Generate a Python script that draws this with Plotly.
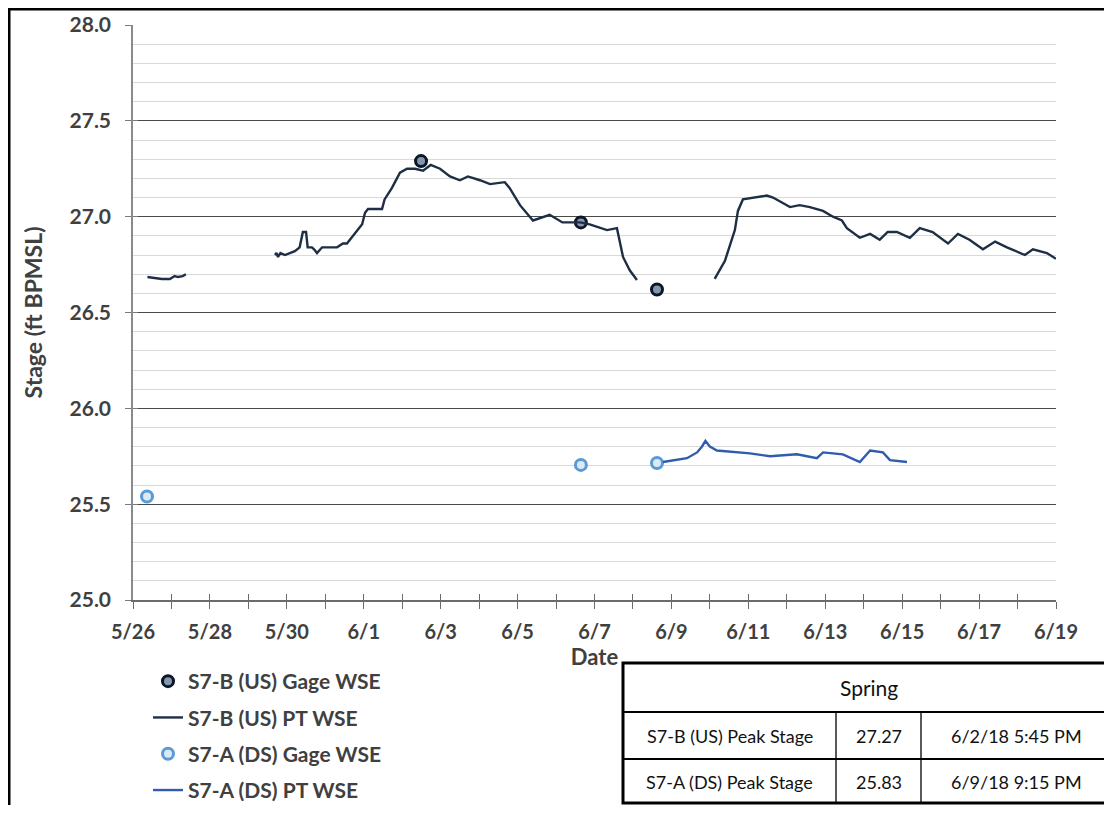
import plotly.graph_objects as go

# ---------------- data ----------------
us_gage_dates = ["2018-06-02 11:45", "2018-06-06 15:30", "2018-06-08 15:00"]
us_gage_vals = [27.29, 26.97, 26.62]

ds_gage_dates = ["2018-05-26 08:45", "2018-06-06 15:30", "2018-06-08 15:00"]
ds_gage_vals = [25.54, 25.705, 25.715]

us_pt_dates = [
    "2018-05-26 09:00", "2018-05-26 13:00", "2018-05-26 18:00", "2018-05-26 23:00",
    "2018-05-27 02:00", "2018-05-27 04:00", "2018-05-27 07:00", "2018-05-27 09:00",
    "2018-05-28 12:00",
    "2018-05-29 16:36", "2018-05-29 17:30", "2018-05-29 18:30", "2018-05-29 20:00",
    "2018-05-29 22:50", "2018-05-30 05:00", "2018-05-30 08:00", "2018-05-30 10:00",
    "2018-05-30 12:00", "2018-05-30 13:00", "2018-05-30 15:40", "2018-05-30 17:00",
    "2018-05-30 18:50", "2018-05-30 22:00", "2018-05-31 07:20", "2018-05-31 11:00",
    "2018-05-31 13:30", "2018-05-31 18:30", "2018-05-31 23:00", "2018-06-01 00:48",
    "2018-06-01 02:40", "2018-06-01 11:24", "2018-06-01 13:00", "2018-06-01 17:36",
    "2018-06-01 22:36", "2018-06-02 03:00", "2018-06-02 08:00", "2018-06-02 13:00",
    "2018-06-02 17:45", "2018-06-02 23:36", "2018-06-03 05:48", "2018-06-03 12:00",
    "2018-06-03 17:00", "2018-06-04 00:30", "2018-06-04 06:48", "2018-06-04 16:00",
    "2018-06-04 19:00", "2018-06-05 01:30", "2018-06-05 06:30", "2018-06-05 09:36",
    "2018-06-05 20:00", "2018-06-06 04:00", "2018-06-06 15:00", "2018-06-06 21:00",
    "2018-06-07 07:48", "2018-06-07 14:00", "2018-06-07 17:48", "2018-06-07 22:00",
    "2018-06-08 02:30",
    "2018-06-09 00:00",
    "2018-06-10 03:00", "2018-06-10 09:24", "2018-06-10 15:36", "2018-06-10 17:30",
    "2018-06-10 20:36", "2018-06-11 03:00", "2018-06-11 11:36", "2018-06-11 15:24",
    "2018-06-12 02:00", "2018-06-12 08:00", "2018-06-12 14:24", "2018-06-12 22:36",
    "2018-06-13 04:48", "2018-06-13 10:24", "2018-06-13 13:30", "2018-06-13 21:36",
    "2018-06-14 04:00", "2018-06-14 10:00", "2018-06-14 15:00", "2018-06-14 20:42",
    "2018-06-15 04:48", "2018-06-15 11:00", "2018-06-15 19:00", "2018-06-16 04:36",
    "2018-06-16 10:48", "2018-06-16 18:00", "2018-06-17 02:24", "2018-06-17 10:00",
    "2018-06-17 17:24", "2018-06-18 04:36", "2018-06-18 09:36", "2018-06-18 18:18",
    "2018-06-19 00:00",
]
us_pt_vals = [
    26.685, 26.68, 26.675, 26.675,
    26.69, 26.685, 26.69, 26.70,
    None,
    26.80, 26.81, 26.79, 26.81,
    26.80, 26.82, 26.84, 26.92,
    26.92, 26.84, 26.84, 26.83,
    26.81, 26.84, 26.84, 26.86,
    26.86, 26.91, 26.96, 27.02,
    27.04, 27.04, 27.09, 27.15,
    27.23, 27.25, 27.25, 27.24,
    27.27, 27.25, 27.21, 27.19,
    27.21, 27.19, 27.17, 27.18,
    27.15, 27.06, 27.01, 26.98,
    27.01, 26.97, 26.97, 26.96,
    26.93, 26.94, 26.79, 26.72,
    26.67,
    None,
    26.675, 26.77, 26.93, 27.03,
    27.09, 27.10, 27.11, 27.10,
    27.05, 27.06, 27.05, 27.03,
    27.00, 26.98, 26.94, 26.89,
    26.91, 26.88, 26.92, 26.92,
    26.89, 26.94, 26.92, 26.86,
    26.91, 26.88, 26.83, 26.87,
    26.84, 26.80, 26.83, 26.81,
    26.78,
]

ds_pt_dates = [
    "2018-06-08 18:42", "2018-06-09 02:00", "2018-06-09 09:42", "2018-06-09 16:00",
    "2018-06-09 19:00", "2018-06-09 21:15", "2018-06-10 00:00", "2018-06-10 04:24",
    "2018-06-10 17:00", "2018-06-11 01:00", "2018-06-11 13:30", "2018-06-12 06:18",
    "2018-06-12 18:48", "2018-06-12 22:36", "2018-06-13 11:00", "2018-06-13 21:36",
    "2018-06-14 04:00", "2018-06-14 12:00", "2018-06-14 16:24", "2018-06-15 03:00",
]
ds_pt_vals = [
    25.72, 25.73, 25.74, 25.77,
    25.80, 25.83, 25.80, 25.78,
    25.77, 25.765, 25.75, 25.76,
    25.74, 25.77, 25.76, 25.72,
    25.78, 25.77, 25.73, 25.72,
]

table_header = "Spring"
peak_labels = ["S7-B (US) Peak Stage", "S7-A (DS) Peak Stage"]
peak_values = ["27.27", "25.83"]
peak_times = ["6/2/18 5:45 PM", "6/9/18 9:15 PM"]

# ---------------- layout helpers ----------------
# the page body has an 8px margin; size the figure so the document fits
OFF = 8
W, H = 1112 - OFF, 813 - 2 * OFF
# plot area in page coordinates
P_L, P_R, P_T, P_B = 133, 1056, 25, 600
ML, MT = P_L - OFF, P_T - OFF
MR, MB = W - (P_R - OFF), H - (P_B - OFF)
PW, PH = P_R - P_L, P_B - P_T


def px(x):  # page x -> paper
    return (x - P_L) / PW


def py(y):  # page y -> paper
    return (P_B - y) / PH


TXT = "#404040"
FONT = "Lato"
TFONT = "Lato"

fig = go.Figure()

fig.add_trace(go.Scatter(
    x=us_gage_dates, y=us_gage_vals, mode="markers", name="S7-B (US) Gage WSE",
    legendgroup="a",
    marker=dict(symbol="circle", size=11, color="#8597ad",
                line=dict(color="#0c1626", width=3)),
))
fig.add_trace(go.Scatter(
    x=us_pt_dates, y=us_pt_vals, mode="lines", name="S7-B (US) PT WSE",
    legendgroup="b", connectgaps=False,
    line=dict(color="#1e2e45", width=2.4),
))
fig.add_trace(go.Scatter(
    x=ds_gage_dates, y=ds_gage_vals, mode="markers", name="S7-A (DS) Gage WSE",
    legendgroup="c",
    marker=dict(symbol="circle", size=11, color="#dce9f6",
                line=dict(color="#5b9bd5", width=3)),
))
fig.add_trace(go.Scatter(
    x=ds_pt_dates, y=ds_pt_vals, mode="lines", name="S7-A (DS) PT WSE",
    legendgroup="d",
    line=dict(color="#2f5cad", width=2.4),
))
# empty trace that activates the overlay axes (for crossing tick marks)
fig.add_trace(go.Scatter(x=[], y=[], xaxis="x2", yaxis="y2", showlegend=False,
                         hoverinfo="skip"))

DAY = 86400000
fig.update_layout(
    width=W, height=H, autosize=False,
    margin=dict(l=ML, r=MR, t=MT, b=MB, pad=0, autoexpand=False),
    paper_bgcolor="white", plot_bgcolor="white",
    font=dict(family=FONT, color=TXT),
    showlegend=True,
    legend=dict(
        x=px(148), y=py(661), xanchor="left", yanchor="top",
        font=dict(family=FONT, size=21, color=TXT, weight="bold"),
        tracegroupgap=6, itemwidth=30, bgcolor="rgba(0,0,0,0)",
    ),
    xaxis=dict(
        type="date", range=["2018-05-26", "2018-06-19"], automargin=False,
        tick0="2018-05-26", dtick=2 * DAY, tickformat="%-m/%-d",
        ticks="outside", ticklen=7, tickwidth=1.3, tickcolor="#6b6b6b",
        ticklabelstandoff=6,
        showline=True, linecolor="#6b6b6b", linewidth=1.5,
        showgrid=False, zeroline=False,
        minor=dict(dtick=DAY, tick0="2018-05-26", ticks="outside", ticklen=7,
                   tickwidth=1.3, tickcolor="#6b6b6b", showgrid=False),
        tickfont=dict(family=FONT, size=20, color=TXT, weight="bold"),
        title=dict(text="Date", standoff=2,
                   font=dict(family=FONT, size=22, color=TXT, weight="bold")),
    ),
    xaxis2=dict(
        overlaying="x", matches="x", anchor="y", type="date", automargin=False,
        tick0="2018-05-26", dtick=DAY, ticks="inside", ticklen=6,
        tickwidth=1.3, tickcolor="#6b6b6b", showticklabels=False,
        showgrid=False, zeroline=False, showline=False,
    ),
    yaxis=dict(
        range=[25, 28], dtick=0.5, tick0=25, tickformat=".1f", automargin=False,
        ticks="outside", ticklen=6, tickwidth=1.3, tickcolor="#7a7a7a",
        ticklabelstandoff=10,
        showline=True, linecolor="#8a8a8a", linewidth=1.5,
        showgrid=True, gridcolor="#4a4a4a", gridwidth=1.2, zeroline=False,
        minor=dict(dtick=0.1, tick0=25, showgrid=True, gridcolor="#d9d9d9",
                   gridwidth=1.2, ticks=""),
        tickfont=dict(family=FONT, size=21, color=TXT, weight="bold"),
        title=dict(text="Stage (ft BPMSL)", standoff=20,
                   font=dict(family=FONT, size=23, color=TXT, weight="bold")),
    ),
    yaxis2=dict(
        overlaying="y", matches="y", anchor="x", side="left", automargin=False,
        dtick=0.5, tick0=25, ticks="inside", ticklen=5, tickwidth=1.3,
        tickcolor="#7a7a7a", showticklabels=False, showgrid=False,
        zeroline=False, showline=False,
    ),
)

shapes = []
# outer frame (left and top edges of the screenshot)
shapes.append(dict(type="line", xref="paper", yref="paper",
                   x0=px(9), x1=px(9), y0=py(8), y1=py(P_B + MB + 20),
                   line=dict(color="black", width=3)))
shapes.append(dict(type="line", xref="paper", yref="paper",
                   x0=px(8), x1=px(1130), y0=py(9), y1=py(9),
                   line=dict(color="black", width=3)))

# summary table
T_L, T_R, T_T, T_B = 623, 1130, 663, 803
R1, R2 = 712, 759
C1, C2 = 836, 921
shapes.append(dict(type="rect", xref="paper", yref="paper",
                   x0=px(T_L), x1=px(T_R), y0=py(T_T), y1=py(T_B),
                   line=dict(color="black", width=3), fillcolor="white",
                   layer="above"))
for yy in (R1, R2):
    shapes.append(dict(type="line", xref="paper", yref="paper",
                       x0=px(T_L), x1=px(T_R), y0=py(yy), y1=py(yy),
                       line=dict(color="black", width=2)))
for xx in (C1, C2):
    shapes.append(dict(type="line", xref="paper", yref="paper",
                       x0=px(xx), x1=px(xx), y0=py(R1), y1=py(T_B),
                       line=dict(color="black", width=1.3)))
fig.update_layout(shapes=shapes)

tfont = dict(family=TFONT, size=18, color="#111111")
ann = [dict(text=table_header, x=px(869), y=py((T_T + R1) / 2), xref="paper",
            yref="paper", showarrow=False, xanchor="center", yanchor="middle",
            font=dict(family=TFONT, size=21, color="#111111"))]
row_centers = [(R1 + R2) / 2, (R2 + T_B) / 2 + 1]
col_centers = [(T_L + C1) / 2, (C1 + C2) / 2, (C2 + 1112) / 2]
for i in range(len(peak_labels)):
    for j, txt in enumerate([peak_labels[i], peak_values[i], peak_times[i]]):
        ann.append(dict(text=txt, x=px(col_centers[j]), y=py(row_centers[i]),
                        xref="paper", yref="paper", showarrow=False,
                        xanchor="center", yanchor="middle", font=tfont))
fig.update_layout(annotations=ann)

fig.write_html("out.html")
